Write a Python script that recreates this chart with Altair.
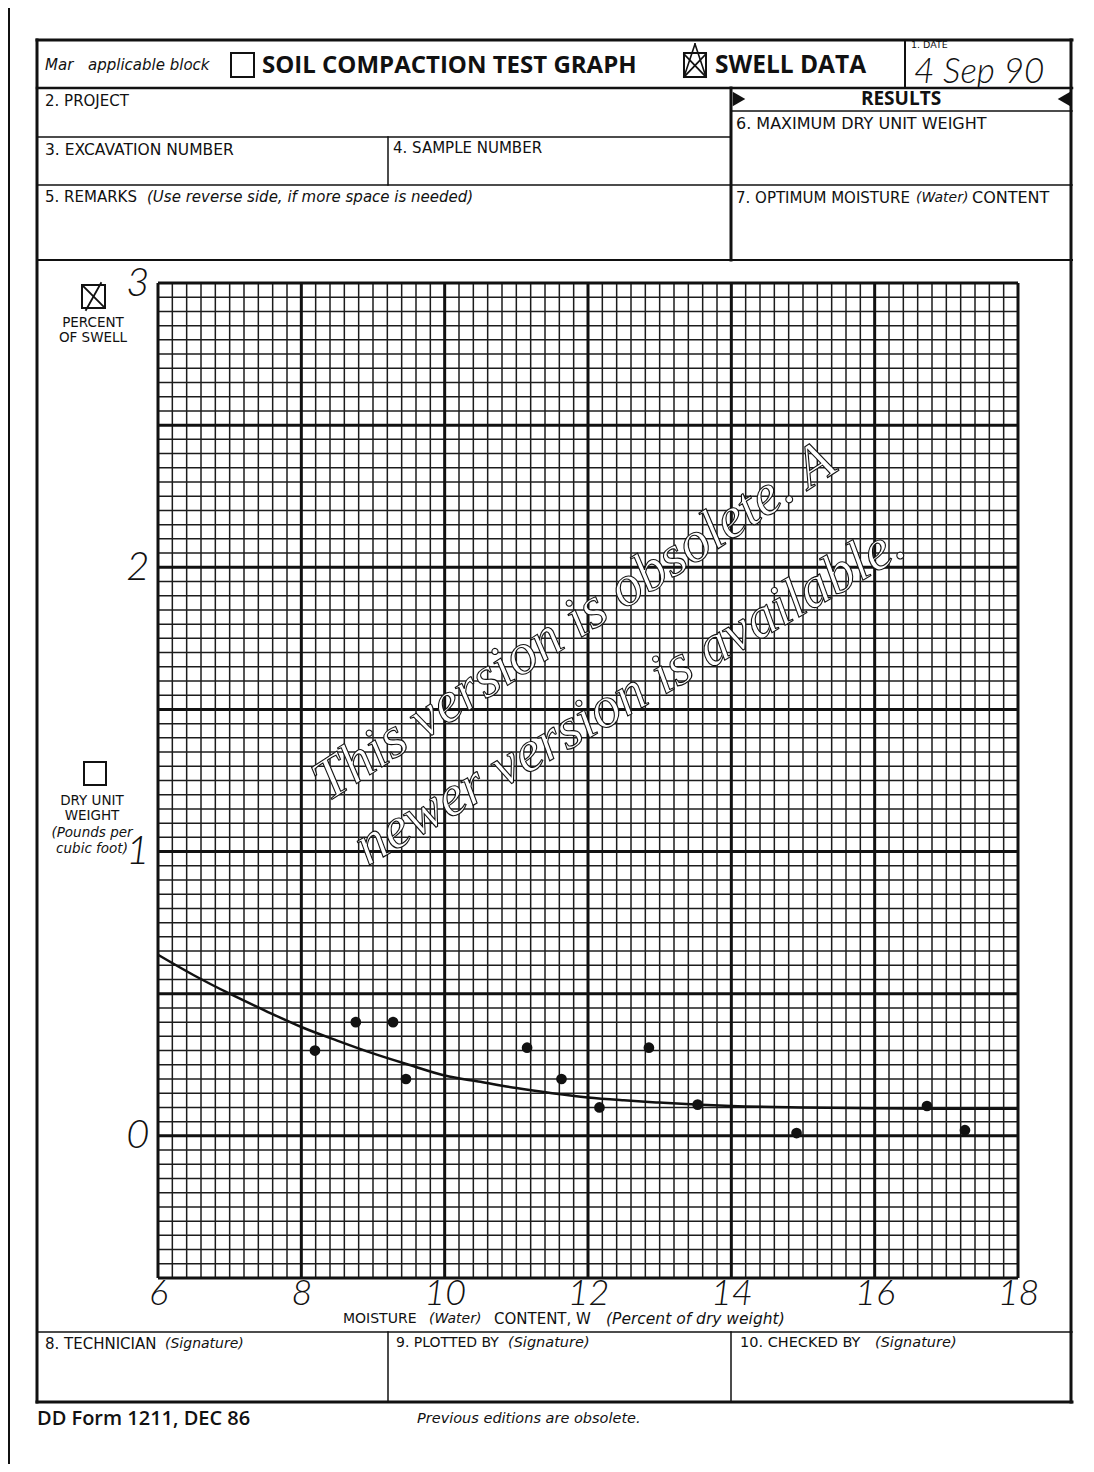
import altair as alt
import pandas as pd

# ---------------- chart data ----------------
moisture = [8.19, 8.76, 9.28, 9.46, 11.15, 11.63, 12.16, 12.85, 13.53, 14.91, 16.73, 17.26]
swell = [0.30, 0.40, 0.40, 0.20, 0.31, 0.20, 0.10, 0.31, 0.11, 0.01, 0.105, 0.02]
curve_x = [6, 6.5, 7, 7.5, 8, 8.5, 9, 9.5, 10, 10.5, 11, 11.5, 12, 12.5, 13, 13.5, 14, 15, 16, 17, 18]
curve_y = [0.637, 0.565, 0.50, 0.44, 0.383, 0.335, 0.29, 0.25, 0.212, 0.19, 0.168, 0.15, 0.135,
           0.125, 0.117, 0.11, 0.105, 0.1, 0.097, 0.095, 0.095]
x_ticks = [6, 8, 10, 12, 14, 16, 18]
y_ticks = [0, 1, 2, 3]
y_major = [-0.5, 0, 0.5, 1, 1.5, 2, 2.5, 3]
x_minor = [round(6 + 0.2 * i, 2) for i in range(61) if i % 10 != 0]
y_minor = [round(-0.5 + 0.05 * i, 3) for i in range(71) if i % 10 != 0]

W, H = 860, 995
XS = alt.Scale(domain=[6, 18], nice=False, zero=False)
YS = alt.Scale(domain=[-0.5, 3], nice=False, zero=False)
HAND = "Lato"
AX = alt.Axis(values=x_ticks, title=None, grid=False, domain=False, ticks=False,
              labelFont=HAND, labelFontStyle="italic", labelFontWeight=300, labelFontSize=36,
              labelPadding=-2, labelColor="#111", labelFlush=False, labelOverlap=False)
AY = alt.Axis(values=y_ticks, title=None, grid=False, domain=False, ticks=False,
              labelFont=HAND, labelFontStyle="italic", labelFontWeight=300, labelFontSize=40,
              labelPadding=9, labelColor="#111", labelFlush=False, labelOverlap=False)

minor_v = alt.Chart(pd.DataFrame({"x": x_minor})).mark_rule(color="#1c1c1c", strokeWidth=1.5).encode(
    x=alt.X("x:Q", scale=XS, axis=AX))
minor_h = alt.Chart(pd.DataFrame({"y": y_minor})).mark_rule(color="#1c1c1c", strokeWidth=1.5).encode(
    y=alt.Y("y:Q", scale=YS, axis=AY))
major_v = alt.Chart(pd.DataFrame({"x": x_ticks})).mark_rule(color="#111", strokeWidth=3).encode(
    x=alt.X("x:Q", scale=XS, axis=AX))
major_h = alt.Chart(pd.DataFrame({"y": y_major})).mark_rule(color="#111", strokeWidth=3).encode(
    y=alt.Y("y:Q", scale=YS, axis=AY))
curve = alt.Chart(pd.DataFrame({"x": curve_x, "y": curve_y})).mark_line(
    color="#111", strokeWidth=2.5, interpolate="monotone").encode(
    x=alt.X("x:Q", scale=XS, axis=AX), y=alt.Y("y:Q", scale=YS, axis=AY))
points = alt.Chart(pd.DataFrame({"x": moisture, "y": swell})).mark_circle(
    color="#111", size=115, opacity=1).encode(
    x=alt.X("x:Q", scale=XS, axis=AX), y=alt.Y("y:Q", scale=YS, axis=AY))

data_layer = alt.layer(minor_v, minor_h, major_v, major_h, curve, points)

# ---------------- form (page-coordinate scale) ----------------
PX = alt.Scale(domain=[158, 1018], range=[0, W], nice=False, zero=False)
PY = alt.Scale(domain=[283, 1278], range=[0, H], nice=False, zero=False)

form_lines = [
    (9, 7, 1094, 7, 2), (9, 7, 9, 1472, 2),
    (37, 40, 1072, 40, 3), (37, 40, 37, 1402, 3), (1071, 40, 1071, 1402, 3), (37, 1402, 1072, 1402, 3),
    (37, 88, 1072, 88, 2.5), (905, 40, 905, 88, 2),
    (37, 137, 731, 137, 1.5), (37, 185, 1072, 185, 1.5), (388, 137, 388, 185, 1.5),
    (731, 88, 731, 260, 3), (731, 111, 1072, 111, 1.5),
    (37, 260, 1072, 260, 2), (37, 1332, 1072, 1332, 1.5),
    (388, 1332, 388, 1402, 1.5), (731, 1332, 731, 1402, 1.5),
    (684, 54, 706, 77, 1.8), (706, 54, 684, 77, 1.8), (695, 44, 684, 77, 1.6), (695, 44, 706, 77, 1.6),
    (83, 286, 104, 307, 1.8), (101, 283, 86, 310, 1.8),
]
lines_df = pd.DataFrame(form_lines, columns=["x", "y", "x2", "y2", "w"])
lines = alt.Chart(lines_df).mark_rule(color="#111", strokeCap="square").encode(
    x=alt.X("x:Q", scale=PX, axis=None), y=alt.Y("y:Q", scale=PY, axis=None),
    x2="x2:Q", y2="y2:Q", strokeWidth=alt.StrokeWidth("w:Q", scale=None, legend=None))

boxes_df = pd.DataFrame([(231, 53, 254, 77), (684, 53, 706, 77), (82, 285, 105, 308), (84, 762, 106, 785)],
                        columns=["x", "y", "x2", "y2"])
boxes = alt.Chart(boxes_df).mark_rect(fill="white", fillOpacity=0, stroke="#111", strokeWidth=2).encode(
    x=alt.X("x:Q", scale=PX, axis=None), y=alt.Y("y:Q", scale=PY, axis=None), x2="x2:Q", y2="y2:Q")

tri_df = pd.DataFrame([(739, 99, "triangle-right"), (1064, 99, "triangle-left")], columns=["x", "y", "s"])
tris = alt.Chart(tri_df).mark_point(filled=True, color="#111", size=210, opacity=1).encode(
    x=alt.X("x:Q", scale=PX, axis=None), y=alt.Y("y:Q", scale=PY, axis=None),
    shape=alt.Shape("s:N", scale=None, legend=None))


def txt(rows, font="DejaVu Sans", style="normal", weight="normal", align="left"):
    df = pd.DataFrame(rows, columns=["t", "x", "y", "fs"])
    return alt.Chart(df).mark_text(font=font, fontStyle=style, fontWeight=weight, align=align,
                                   baseline="middle", color="#111").encode(
        x=alt.X("x:Q", scale=PX, axis=None), y=alt.Y("y:Q", scale=PY, axis=None),
        text="t:N", size=alt.Size("fs:Q", scale=None, legend=None))


normal_left = [
    ("2. PROJECT", 45, 101, 15),
    ("6. MAXIMUM DRY UNIT WEIGHT", 736, 124, 16),
    ("3. EXCAVATION NUMBER", 45, 150, 15.5),
    ("4. SAMPLE NUMBER", 393, 148, 15),
    ("5. REMARKS", 45, 197, 15),
    ("7. OPTIMUM MOISTURE", 736, 198, 15),
    ("CONTENT", 972, 198, 16),
    ("MOISTURE", 343, 1319, 14),
    ("CONTENT, W", 494, 1319, 15),
    ("8. TECHNICIAN", 45, 1344, 15),
    ("9. PLOTTED BY", 396, 1343, 14),
    ("10. CHECKED BY", 740, 1343, 14.5),
    ("1. DATE", 911, 45, 9.5),
]
italic_left = [
    ("Mar", 45, 65, 15),
    ("applicable block", 88, 65, 15),
    ("(Use reverse side, if more space is needed)", 147, 197, 15),
    ("(Water)", 916, 198, 14),
    ("(Water)", 429, 1319, 14),
    ("(Percent of dry weight)", 606, 1319, 15.5),
    ("(Signature)", 165, 1344, 14),
    ("(Signature)", 508, 1343, 14.5),
    ("(Signature)", 875, 1343, 14.5),
    ("Previous editions are obsolete.", 417, 1419, 14.5),
]
bold_left = [
    ("SOIL COMPACTION TEST GRAPH", 262, 66, 24),
    ("SWELL DATA", 715, 66, 24.5),
]
semibold_left = [("DD Form 1211, DEC 86", 37, 1419, 20)]
bold_center = [("RESULTS", 901, 99, 19)]
normal_center = [
    ("PERCENT", 93, 323, 13.5), ("OF SWELL", 93, 338, 13.5),
    ("DRY UNIT", 92, 801, 13.5), ("WEIGHT", 92, 816, 13.5),
]
italic_center = [("(Pounds per", 92, 833, 13.5), ("cubic foot)", 92, 849, 13.5)]
hand_left = [("4 Sep 90", 914, 72, 35)]

watermark_df = pd.DataFrame([("This version is obsolete. A", 574, 622, 327),
                             ("newer version is available.", 630, 695, 330)],
                            columns=["t", "x", "y", "a"])
watermark = alt.Chart(watermark_df).mark_text(
    font="Liberation Serif", fontStyle="italic", fontSize=58, align="center",
    baseline="middle", fill="white", stroke="#111", strokeWidth=1.1).encode(
    x=alt.X("x:Q", scale=PX, axis=None), y=alt.Y("y:Q", scale=PY, axis=None), text="t:N",
    angle=alt.Angle("a:Q", scale=None))

form_layer = alt.layer(
    lines, boxes, tris,
    txt(normal_left), txt(italic_left, style="italic"),
    txt(bold_left, font="Open Sans", weight="bold"),
    txt(semibold_left, font="Open Sans", weight=600),
    txt(bold_center, font="Open Sans", weight="bold", align="center"),
    txt(normal_center, align="center"),
    txt(italic_center, style="italic", align="center"),
    txt(hand_left, font=HAND, style="italic", weight=300),
    watermark,
)

chart = alt.layer(data_layer, form_layer).resolve_scale(x="independent", y="independent").properties(
    width=W, height=H,
    autosize=alt.AutoSizeParams(type="none"),
    padding={"left": 150, "top": 275, "right": 68, "bottom": 186},
    background="white",
).configure_view(stroke=None)

chart.save("out.html", embed_options={"renderer": "svg", "actions": False})
